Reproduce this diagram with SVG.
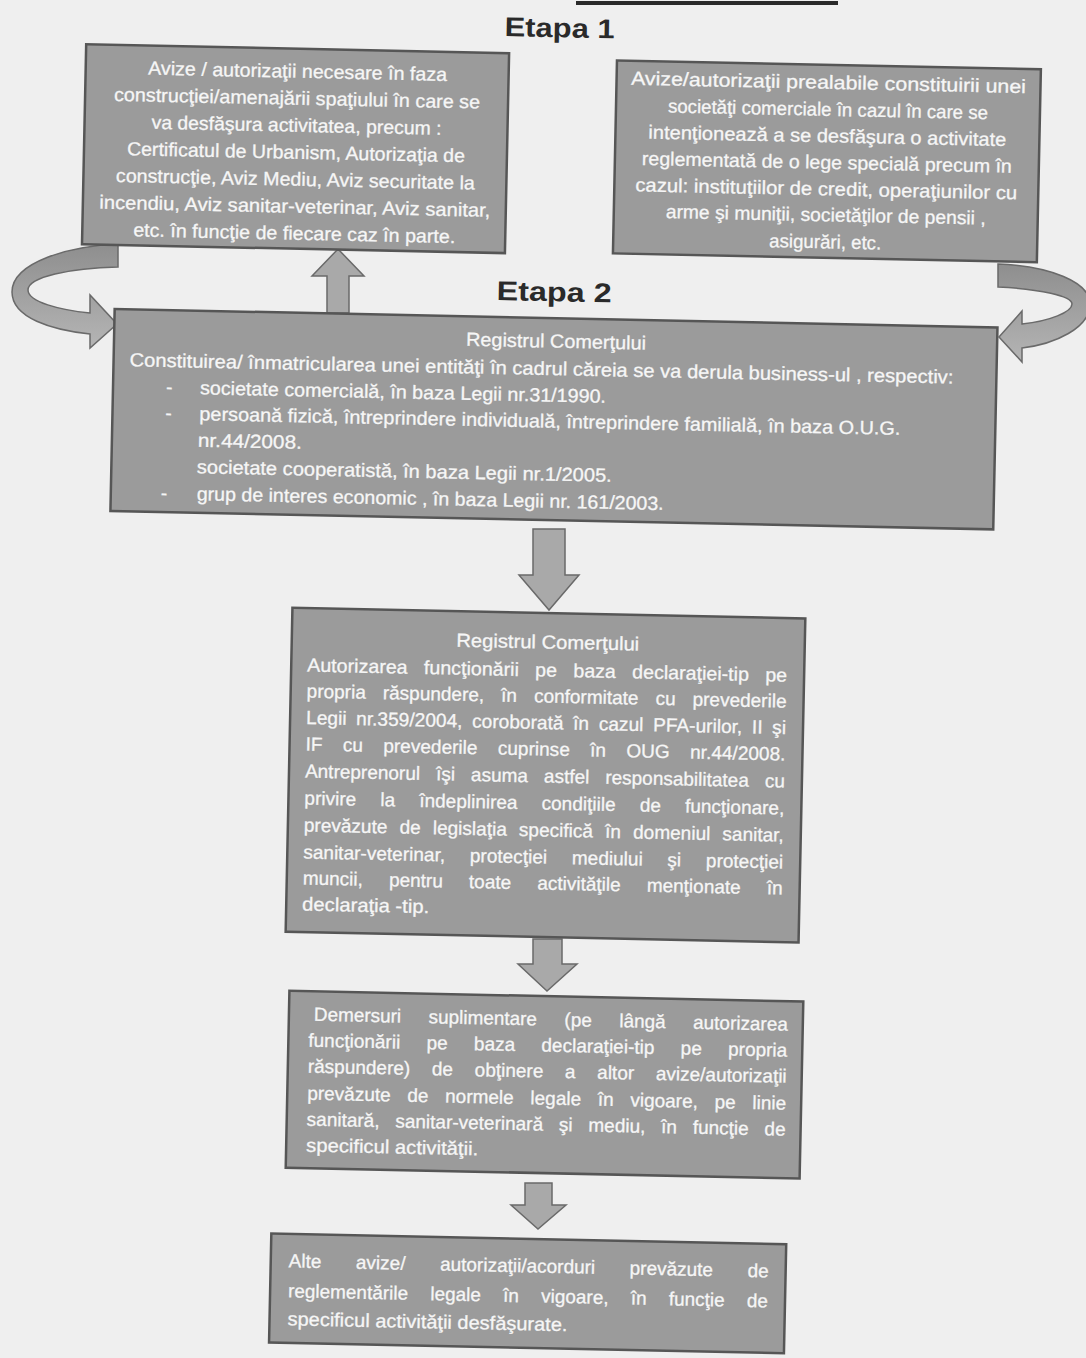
<svg xmlns="http://www.w3.org/2000/svg" width="1086" height="1358" viewBox="0 0 1086 1358">
<defs>
<style>
.box{fill:#9b9b9b;stroke:#565656;stroke-width:2.5}
.t{font-family:"Liberation Sans",Arial,sans-serif;font-size:19px;fill:#f6f6f6;stroke:#f6f6f6;stroke-width:0.3}
.c{text-anchor:middle}
.h{font-family:"Liberation Sans",Arial,sans-serif;font-weight:bold;font-size:27px;fill:#2a2a2a;text-anchor:middle}
.arr{fill:#a9a9a9;stroke:#6a6a6a;stroke-width:1.5}
.curve{fill:url(#g);stroke:#6a6a6a;stroke-width:1.5}
</style>
<linearGradient id="g" x1="0" y1="0" x2="0" y2="1">
<stop offset="0" stop-color="#8e8e8e"/>
<stop offset="1" stop-color="#b5b5b5"/>
</linearGradient>
</defs>
<rect x="0" y="0" width="1086" height="1358" fill="#efefef"/>
<rect x="576" y="1" width="262" height="4" fill="#2a2a2a"/>

<g id="connectors">
<path class="curve" d="M118,244 C70,246 12,262 12,292 C12,318 52,330 90,334 L90,348 L117,324 L90,295 L90,313 C60,310 28,302 28,290 C28,277 70,268 118,267 Z"/>
<path class="curve" d="M998,264 C1050,266 1090,282 1090,304 C1090,328 1055,344 1022,348 L1022,362 L999,337 L1022,311 L1022,324 C1050,321 1072,312 1072,304 C1072,296 1040,289 998,287 Z"/>
<path class="arr" d="M338,249 L364,276 L349,276 L349,313 L327,313 L327,276 L312,276 Z"/>
<path class="arr" d="M533,529 L565,529 L565,575 L579,575 L549,610 L519,575 L533,575 Z"/>
<path class="arr" d="M533,939 L562,939 L562,964 L577,964 L547,991 L518,964 L533,964 Z"/>
<path class="arr" d="M525,1183 L552,1183 L552,1205 L566,1205 L538,1229 L511,1205 L525,1205 Z"/>
</g>

<g id="page" transform="rotate(1.2 543 679)">
<g id="title1"><text class="h" x="546" y="37" textLength="110" lengthAdjust="spacingAndGlyphs">Etapa 1</text></g>
<g id="title2"><text class="h" x="546" y="301" textLength="115" lengthAdjust="spacingAndGlyphs">Etapa 2</text></g>

<g id="box1">
<rect class="box" x="73" y="54" width="423" height="200"/>
<text class="t c" x="285" y="83" textLength="299" lengthAdjust="spacingAndGlyphs">Avize / autorizaţii necesare în faza</text>
<text class="t c" x="285" y="110" textLength="366" lengthAdjust="spacingAndGlyphs">construcţiei/amenajării spaţiului în care se</text>
<text class="t c" x="285" y="137" textLength="290" lengthAdjust="spacingAndGlyphs">va desfăşura activitatea, precum :</text>
<text class="t c" x="285" y="164" textLength="338" lengthAdjust="spacingAndGlyphs">Certificatul de Urbanism, Autorizaţia de</text>
<text class="t c" x="285" y="191" textLength="359" lengthAdjust="spacingAndGlyphs">construcţie, Aviz Mediu, Aviz securitate la</text>
<text class="t c" x="285" y="218" textLength="391" lengthAdjust="spacingAndGlyphs">incendiu, Aviz sanitar-veterinar, Aviz sanitar,</text>
<text class="t c" x="285" y="245" textLength="322" lengthAdjust="spacingAndGlyphs">etc. în funcţie de fiecare caz în parte.</text>
</g>

<g id="box2">
<rect class="box" x="604" y="59" width="424" height="193"/>
<text class="t c" x="816" y="83" textLength="395" lengthAdjust="spacingAndGlyphs">Avize/autorizaţii  prealabile  constituirii unei</text>
<text class="t c" x="816" y="110" textLength="320" lengthAdjust="spacingAndGlyphs">societăţi comerciale în cazul în care se</text>
<text class="t c" x="816" y="136.5" textLength="358" lengthAdjust="spacingAndGlyphs">intenţionează a se desfăşura o activitate</text>
<text class="t c" x="816" y="163" textLength="370" lengthAdjust="spacingAndGlyphs">reglementată de o lege specială precum în</text>
<text class="t c" x="816" y="189.5" textLength="382" lengthAdjust="spacingAndGlyphs">cazul: instituţiilor de credit, operaţiunilor cu</text>
<text class="t c" x="816" y="215.5" textLength="320" lengthAdjust="spacingAndGlyphs">arme şi muniţii, societăţilor de pensii ,</text>
<text class="t c" x="816" y="242.5" textLength="112" lengthAdjust="spacingAndGlyphs">asigurări, etc.</text>
</g>

<g id="box3">
<rect class="box" x="107" y="318" width="883" height="202"/>
<text class="t c" x="549" y="347.5" textLength="180" lengthAdjust="spacingAndGlyphs">Registrul Comerţului</text>
<text class="t" x="123" y="375" textLength="824" lengthAdjust="spacingAndGlyphs">Constituirea/ înmatricularea unei  entităţi  în cadrul căreia se va derula business-ul , respectiv:</text>
<text class="t" x="160" y="401.5">-</text>
<text class="t" x="194" y="401.5" textLength="406" lengthAdjust="spacingAndGlyphs">societate comercială, în baza Legii nr.31/1990.</text>
<text class="t" x="160" y="427.5">-</text>
<text class="t" x="194" y="427.5" textLength="701" lengthAdjust="spacingAndGlyphs">persoană fizică, întreprindere individuală, întreprindere familială, în baza O.U.G.</text>
<text class="t" x="193" y="454" textLength="104" lengthAdjust="spacingAndGlyphs">nr.44/2008.</text>
<text class="t" x="192.5" y="480.5" textLength="415" lengthAdjust="spacingAndGlyphs">societate  cooperatistă, în baza Legii nr.1/2005.</text>
<text class="t" x="157" y="507.5">-</text>
<text class="t" x="193" y="507.5" textLength="467" lengthAdjust="spacingAndGlyphs">grup de interes economic , în baza Legii nr. 161/2003.</text>
</g>

<g id="box4">
<rect class="box" x="291" y="613" width="513" height="324"/>
<text class="t c" x="547" y="648.5" textLength="183" lengthAdjust="spacingAndGlyphs">Registrul Comerţului</text>
<text class="t" x="307" y="676.5" word-spacing="10.5" textLength="480" lengthAdjust="spacingAndGlyphs">Autorizarea funcţionării pe baza declaraţiei-tip pe</text>
<text class="t" x="307" y="702.5" word-spacing="11.7" textLength="480" lengthAdjust="spacingAndGlyphs">propria răspundere, în conformitate cu prevederile</text>
<text class="t" x="307" y="729" word-spacing="4.3" textLength="480" lengthAdjust="spacingAndGlyphs">Legii nr.359/2004, coroborată în cazul PFA-urilor, II şi</text>
<text class="t" x="307" y="755.5" word-spacing="15" textLength="480" lengthAdjust="spacingAndGlyphs">IF cu prevederile cuprinse în OUG nr.44/2008.</text>
<text class="t" x="307" y="782.5" word-spacing="10.7" textLength="480" lengthAdjust="spacingAndGlyphs">Antreprenorul îşi asuma astfel responsabilitatea cu</text>
<text class="t" x="307" y="809.5" word-spacing="18.9" textLength="480" lengthAdjust="spacingAndGlyphs">privire la îndeplinirea condiţiile de funcţionare,</text>
<text class="t" x="307" y="836.5" word-spacing="6.8" textLength="480" lengthAdjust="spacingAndGlyphs">prevăzute de legislaţia specifică în domeniul sanitar,</text>
<text class="t" x="307" y="863.5" word-spacing="19.4" textLength="480" lengthAdjust="spacingAndGlyphs">sanitar-veterinar, protecţiei mediului şi protecţiei</text>
<text class="t" x="307" y="889.5" word-spacing="20.8" textLength="480" lengthAdjust="spacingAndGlyphs">muncii, pentru toate activităţile menţionate în</text>
<text class="t" x="307" y="915.5" textLength="127" lengthAdjust="spacingAndGlyphs">declaraţia -tip.</text>
</g>

<g id="box5">
<rect class="box" x="296" y="996" width="514" height="177"/>
<text class="t" x="321" y="1025.5" word-spacing="22.4" textLength="474" lengthAdjust="spacingAndGlyphs">Demersuri suplimentare (pe lângă autorizarea</text>
<text class="t" x="316" y="1051.5" word-spacing="21" textLength="479" lengthAdjust="spacingAndGlyphs">funcţionării pe baza declaraţiei-tip pe propria</text>
<text class="t" x="316" y="1077.5" word-spacing="16.4" textLength="479" lengthAdjust="spacingAndGlyphs">răspundere) de obţinere a altor avize/autorizaţii</text>
<text class="t" x="316" y="1104.5" word-spacing="11.4" textLength="479" lengthAdjust="spacingAndGlyphs">prevăzute de normele legale în vigoare, pe linie</text>
<text class="t" x="316" y="1130.5" word-spacing="10.5" textLength="479" lengthAdjust="spacingAndGlyphs">sanitară, sanitar-veterinară şi mediu, în funcţie de</text>
<text class="t" x="316" y="1156.5" textLength="172" lengthAdjust="spacingAndGlyphs">specificul activităţii.</text>
</g>

<g id="box6">
<rect class="box" x="283" y="1239" width="515" height="109"/>
<text class="t" x="301" y="1272.5" word-spacing="29.2" textLength="480" lengthAdjust="spacingAndGlyphs">Alte avize/ autorizaţii/acorduri prevăzute de</text>
<text class="t" x="301" y="1302.5" word-spacing="17.1" textLength="480" lengthAdjust="spacingAndGlyphs">reglementările legale în vigoare, în funcţie de</text>
<text class="t" x="301" y="1330.5" textLength="280" lengthAdjust="spacingAndGlyphs">specificul activităţii desfăşurate.</text>
</g>
</g>
</svg>
